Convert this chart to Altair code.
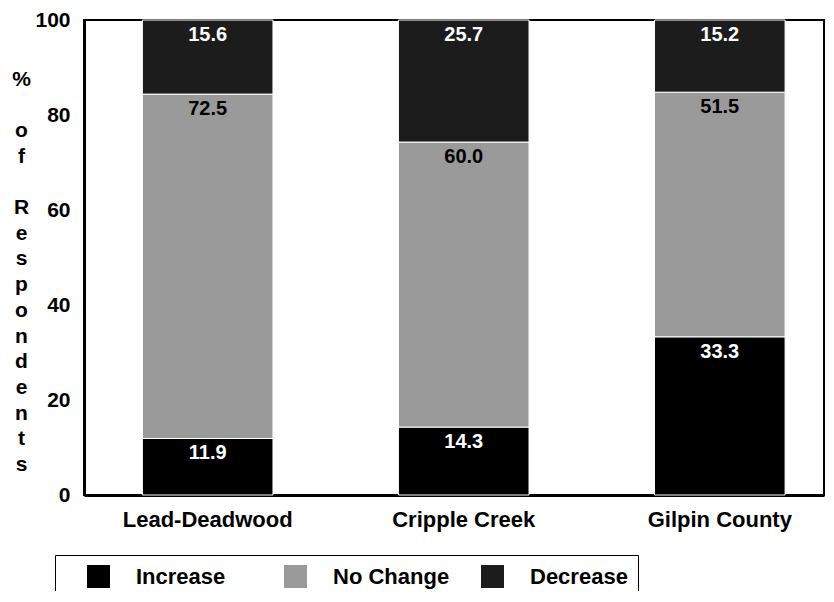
import altair as alt
import pandas as pd

sites = ["Lead-Deadwood", "Cripple Creek", "Gilpin County"]
responses = ["Increase", "No Change", "Decrease"]
increase = [11.9, 14.3, 33.3]
no_change = [72.5, 60.0, 51.5]
decrease = [15.6, 25.7, 15.2]
fill_colors = ["#000000", "#9a9a9a", "#1c1c1c"]
text_colors = ["#ffffff", "#000000", "#ffffff"]
y_ticks = [0, 20, 40, 60, 80, 100]
GAP = "\u2800"
y_title = ["%", GAP, "o", "f", GAP, "R", "e", "s", "p", "o", "n", "d", "e", "n", "t", "s"]

rows = []
for i, s in enumerate(sites):
    for j, (r, vals) in enumerate(zip(responses, [increase, no_change, decrease])):
        rows.append({"site": s, "response": r, "order": j,
                     "value": vals[i], "label": f"{vals[i]:.1f}"})
df = pd.DataFrame(rows)

FONT = "Liberation Sans"

base = alt.Chart(df).transform_stack(
    stack="value", groupby=["site"], as_=["y0", "y1"],
    sort=[alt.SortField("order", order="ascending")]
)

x_enc = alt.X(
    "site:N", sort=sites, title=None,
    scale=alt.Scale(paddingInner=0.49, paddingOuter=0.19, align=0.6),
    axis=alt.Axis(labelAngle=0, labelFontSize=22, labelFont=FONT,
                  labelFontWeight="bold", labelColor="black", labelPadding=14,
                  ticks=False, tickSize=0, domainColor="black", domainWidth=3),
)

y_enc = alt.Y(
    "y0:Q",
    scale=alt.Scale(domain=[0, 100], nice=False),
    axis=alt.Axis(values=y_ticks, grid=False, ticks=False, tickSize=0,
                  labelFontSize=21, labelFont=FONT, labelFontWeight="bold",
                  labelColor="black", labelPadding=14,
                  domainColor="black", domainWidth=3,
                  title=y_title, titleAngle=0, titleX=-63, titleY=65,
                  titleAlign="center", titleBaseline="alphabetic",
                  titleLineHeight=25.7, titleFontSize=21, titleFont=FONT,
                  titleFontWeight="bold", titleColor="black"),
)

bars = base.mark_bar(stroke="white", strokeWidth=1).encode(
    x=x_enc,
    y=y_enc,
    y2="y1:Q",
    color=alt.Color(
        "response:N",
        scale=alt.Scale(domain=responses, range=fill_colors),
        legend=alt.Legend(
            title=None, orient="none", legendX=-29, legendY=535,
            direction="horizontal", columns=3, gridAlign="all",
            columnPadding=9, symbolType="square", symbolSize=529,
            symbolStrokeWidth=0, symbolOffset=22, labelOffset=26,
            labelFontSize=22, labelFont=FONT, labelFontWeight="bold",
            labelColor="black", padding=10, strokeColor="black",
        ),
    ),
)

labels = base.mark_text(baseline="alphabetic", dy=21, fontSize=20,
                        font=FONT, fontWeight="bold").encode(
    x=alt.X("site:N", sort=sites),
    y=alt.Y("y1:Q"),
    text="label:N",
    color=alt.Color("response:N",
                    scale=alt.Scale(domain=responses, range=text_colors),
                    legend=None),
)

chart = alt.layer(bars, labels).resolve_scale(color="independent").properties(
    width=740, height=475,
    autosize=alt.AutoSizeParams(type="none"),
    padding={"left": 76, "top": 12, "right": 2, "bottom": 96},
).configure_view(stroke="black", strokeWidth=2)

chart.save("out.html", embed_options={"renderer": "svg", "actions": False})
